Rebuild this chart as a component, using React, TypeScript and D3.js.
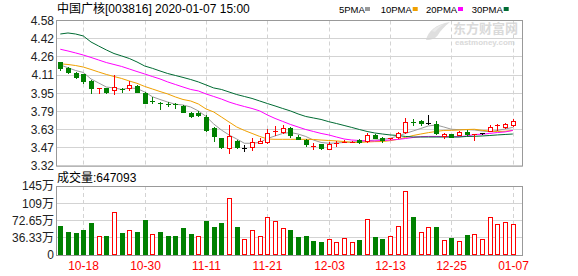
import React from 'react';
import * as d3 from 'd3';

const title = '中国广核[003816] 2020-01-07 15:00';
const volumeTitle = '成交量:647093';
const maNames = ['5PMA', '10PMA', '20PMA', '30PMA'];
const maColors = ['#9a9a9a', '#f0a000', '#ff00ff', '#006b33'];

const dates = [
  '10-15','10-16','10-17','10-18','10-21','10-22','10-23','10-24','10-25','10-28','10-29','10-30','10-31',
  '11-01','11-04','11-05','11-06','11-07','11-08','11-11','11-12','11-13','11-14','11-15','11-18','11-19','11-20','11-21','11-22','11-25','11-26','11-27','11-28','11-29',
  '12-02','12-03','12-04','12-05','12-06','12-09','12-10','12-11','12-12','12-13','12-16','12-17','12-18','12-19','12-20','12-23','12-24','12-25','12-26','12-27','12-30','12-31',
  '01-02','01-03','01-06','01-07'
];
const xTickLabels = ['10-18', '10-30', '11-11', '11-21', '12-03', '12-13', '12-25', '01-07'];

const opens = [4.218,4.171,4.128,4.114,4.059,3.990,3.996,3.981,3.988,3.998,4.016,3.950,3.882,3.866,3.858,3.858,3.840,3.782,3.782,3.747,3.652,3.560,3.479,3.537,3.473,3.482,3.523,3.531,3.617,3.618,3.649,3.570,3.545,3.490,3.511,3.465,3.520,3.525,3.528,3.545,3.539,3.589,3.560,3.555,3.569,3.617,3.698,3.710,3.690,3.684,3.577,3.600,3.591,3.617,3.595,3.603,3.625,3.672,3.662,3.673];
const highs = [4.223,4.175,4.137,4.119,4.062,3.995,3.996,4.108,3.995,4.056,4.022,3.958,3.915,3.872,3.877,3.868,3.848,3.788,3.794,3.759,3.655,3.565,3.675,3.545,3.502,3.560,3.560,3.638,3.667,3.673,3.660,3.590,3.554,3.516,3.511,3.530,3.540,3.545,3.535,3.555,3.603,3.598,3.572,3.565,3.617,3.733,3.725,3.720,3.765,3.713,3.605,3.600,3.620,3.629,3.600,3.610,3.675,3.685,3.690,3.727];
const lows = [4.154,4.123,4.085,4.036,3.955,3.955,3.955,3.946,3.965,3.981,3.960,3.866,3.868,3.816,3.842,3.825,3.790,3.748,3.756,3.623,3.540,3.480,3.435,3.478,3.450,3.459,3.523,3.522,3.589,3.608,3.573,3.550,3.496,3.470,3.470,3.465,3.496,3.525,3.525,3.520,3.531,3.560,3.530,3.550,3.560,3.609,3.675,3.675,3.684,3.597,3.565,3.570,3.585,3.591,3.545,3.598,3.620,3.633,3.650,3.667];
const closes = [4.166,4.131,4.093,4.059,3.998,3.993,3.964,4.004,3.982,4.022,3.964,3.868,3.880,3.862,3.855,3.854,3.790,3.756,3.764,3.632,3.580,3.487,3.580,3.482,3.473,3.525,3.540,3.609,3.622,3.647,3.589,3.555,3.513,3.492,3.479,3.514,3.522,3.528,3.530,3.530,3.589,3.565,3.542,3.560,3.604,3.704,3.694,3.690,3.690,3.603,3.600,3.570,3.612,3.600,3.597,3.603,3.660,3.675,3.683,3.710];

// volume in 手
const volumes = [610000,480000,460000,530000,670000,410000,390000,900000,460000,530000,480000,740000,440000,480000,400000,410000,570000,440000,410000,720000,590000,670000,1190000,590000,330000,520000,410000,810000,710000,560000,530000,380000,400000,300000,280000,330000,270000,350000,270000,320000,750000,380000,340000,390000,620000,1340000,800000,480000,580000,590000,310000,360000,290000,420000,440000,330000,790000,650000,690000,647093];
const volumeColors = 'GGGGGRGRGRGGRGGGGGRGGGRGRRRRRRGGGGGRRRRGRGGRRRGRRGRGRGRRRRRR';

const ma5 = [4.195,4.171,4.147,4.130,4.074,4.039,4.004,3.996,3.983,3.996,3.991,3.961,3.920,3.896,3.874,3.855,3.848,3.831,3.797,3.749,3.684,3.632,3.589,3.554,3.517,3.517,3.524,3.558,3.580,3.602,3.610,3.597,3.576,3.545,3.524,3.517,3.519,3.524,3.528,3.531,3.537,3.545,3.550,3.560,3.580,3.602,3.623,3.645,3.667,3.675,3.658,3.638,3.635,3.635,3.632,3.623,3.617,3.628,3.641,3.654];
const ma10 = [4.205,4.199,4.190,4.177,4.156,4.134,4.113,4.095,4.078,4.056,4.036,4.009,3.987,3.965,3.944,3.918,3.896,3.883,3.857,3.814,3.788,3.745,3.701,3.658,3.628,3.602,3.576,3.554,3.551,3.551,3.551,3.551,3.551,3.550,3.545,3.541,3.537,3.532,3.524,3.524,3.528,3.531,3.532,3.539,3.551,3.567,3.584,3.597,3.609,3.619,3.628,3.629,3.632,3.636,3.638,3.629,3.622,3.619,3.621,3.628];
const ma20 = [4.331,4.316,4.299,4.281,4.260,4.238,4.216,4.199,4.182,4.160,4.138,4.117,4.095,4.074,4.048,4.026,4.004,3.983,3.970,3.944,3.922,3.900,3.874,3.853,3.835,3.818,3.797,3.762,3.732,3.706,3.680,3.658,3.636,3.619,3.602,3.589,3.571,3.554,3.545,3.541,3.537,3.537,3.541,3.545,3.550,3.558,3.567,3.574,3.576,3.576,3.574,3.574,3.574,3.580,3.593,3.595,3.602,3.610,3.615,3.628];
const ma30 = [4.463,4.472,4.463,4.446,4.394,4.359,4.325,4.294,4.273,4.251,4.221,4.186,4.166,4.143,4.121,4.104,4.087,4.069,4.048,4.022,3.996,3.983,3.961,3.939,3.922,3.905,3.883,3.861,3.840,3.818,3.797,3.771,3.749,3.736,3.723,3.704,3.688,3.671,3.654,3.636,3.619,3.606,3.597,3.589,3.584,3.576,3.571,3.571,3.571,3.571,3.571,3.571,3.571,3.576,3.577,3.580,3.584,3.589,3.593,3.597];

const priceTickLabels = ['3.32', '3.47', '3.63', '3.79', '3.95', '4.11', '4.26', '4.42', '4.58'];
const priceMin = 3.32;
const priceMax = 4.58;
const volumeTickLabels = ['0', '36.33万', '72.65万', '109万', '145万'];
const volumeMax = 1453200;

const FONT = '"Liberation Sans", Arial, "Noto Sans CJK SC", sans-serif';
const RED = '#ff0000';
const GREEN = '#008000';
const GRID = '#d3d3d3';
const FRAME = '#999999';

export default function App() {
  const left = 56.5;
  const right = 522.5;
  const pTop = 20.5;
  const pBottom = 166;
  const vTop = 186;
  const vBottom = 255;

  const x = d3.scalePoint<string>().domain(dates).range([60.3, 512.8]);
  const y = d3.scaleLinear().domain([priceMin, priceMax]).range([pBottom, pTop]);
  const yv = d3.scaleLinear().domain([0, volumeMax]).range([vBottom, vTop]);

  const px = (i: number) => Math.round(x(dates[i]) as number);
  const crisp = (v: number) => Math.floor(v) + 0.5;

  const priceTicks = priceTickLabels.map((lab, k) => ({
    lab,
    v: priceMin + (k * (priceMax - priceMin)) / (priceTickLabels.length - 1),
  }));
  const volumeTicks = volumeTickLabels.map((lab, k) => ({
    lab,
    v: (k * volumeMax) / (volumeTickLabels.length - 1),
  }));
  const xTicks = xTickLabels.map((lab) => ({ lab, i: dates.indexOf(lab) }));

  const maLine = (arr: number[]) =>
    d3
      .line<number>()
      .x((_, i) => x(dates[i]) as number)
      .y((v) => y(v))(arr) as string;

  const mas = [ma5, ma10, ma20, ma30];
  const legendX = [339, 380.7, 426, 471.7];
  const legendW = [24, 30, 30, 30];

  return (
    <svg
      width={578}
      height={276}
      style={{ position: 'absolute', left: 0, top: 0, background: '#fff' }}
      fontFamily={FONT}
    >
      <rect x={0} y={0} width={578} height={276} fill="#fff" />
      {/* title */}
      <text x={57} y={13} fontSize={12} fill="#000">{title}</text>
      {/* legend */}
      {maNames.map((n, k) => (
        <g key={n}>
          <text x={legendX[k]} y={12.5} fontSize={9.5} fill="#000">{n}</text>
          <rect x={legendX[k] + legendW[k] + 2} y={7} width={5} height={4} fill={maColors[k]} />
        </g>
      ))}

      {/* watermark */}
      <g opacity={0.9}>
        <path d="M426,40 C428,31 436,24 450,22 C444,27 440,31 438,35 C436,38 432,40 426,40 Z" fill="#dcdcdc" />
        <path d="M432,31 C435,27 440,25 444,24 C440,27 437,29 435,32 Z" fill="#e8e8e8" />
        <text x={453} y={32.5} fontSize={13} fontWeight="bold" fill="#d6d6d6" fontFamily={'"Noto Sans CJK SC", sans-serif'}>东方财富网</text>
        <text x={455} y={45} fontSize={8} fontWeight="bold" fill="#d6d6d6">eastmoney.com</text>
      </g>

      {/* price panel grid */}
      {priceTicks.map((t) => (
        <line key={'pg' + t.lab} x1={left} x2={right} y1={crisp(y(t.v))} y2={crisp(y(t.v))} stroke={GRID} />
      ))}
      {xTicks.map((t) => (
        <line
          key={'px' + t.lab}
          x1={px(t.i) + 0.5}
          x2={px(t.i) + 0.5}
          y1={pTop}
          y2={pBottom}
          stroke={GRID}
          strokeDasharray="4,3"
        />
      ))}
      {/* price labels */}
      {priceTicks.map((t) => (
        <text key={'pl' + t.lab} x={54} y={y(t.v)} dy="0.36em" textAnchor="end" fontSize={12} fill="#222">
          {t.lab}
        </text>
      ))}

      {/* MA lines */}
      {mas.map((arr, k) => (
        <path key={'ma' + k} d={maLine(arr)} fill="none" stroke={maColors[k]} strokeWidth={1} />
      ))}

      {/* candles */}
      {dates.map((d, i) => {
        const o = opens[i];
        const c = closes[i];
        const color = c > o ? RED : c < o ? GREEN : '#000';
        const cx = px(i);
        const yo = Math.round(y(o));
        const yc = Math.round(y(c));
        const yh = Math.round(y(highs[i]));
        const yl = Math.round(y(lows[i]));
        const top = Math.min(yo, yc);
        const bot = Math.max(yo, yc);
        const bh = bot - top;
        const wick = <line x1={cx + 0.5} x2={cx + 0.5} y1={yh} y2={yl + 1} stroke={color} />;
        let body;
        if (bh < 2) {
          body = <rect x={cx - 2} y={top} width={5} height={Math.max(1, bh)} fill={color} />;
        } else if (c > o) {
          body = (
            <g>
              <line x1={cx + 0.5} x2={cx + 0.5} y1={yh} y2={top} stroke={color} />
              <line x1={cx + 0.5} x2={cx + 0.5} y1={bot} y2={yl + 1} stroke={color} />
              <rect x={cx - 1.5} y={top + 0.5} width={4} height={bh} fill="#fff" stroke={color} />
            </g>
          );
          return <g key={d}>{body}</g>;
        } else {
          body = <rect x={cx - 2} y={top} width={5} height={bh + 1} fill={color} />;
        }
        return (
          <g key={d}>
            {wick}
            {body}
          </g>
        );
      })}

      {/* price frame */}
      <rect x={left} y={pTop} width={right - left} height={pBottom - pTop} fill="none" stroke={FRAME} />

      {/* volume title */}
      <text x={57} y={181.5} fontSize={12} fill="#000">{volumeTitle}</text>

      {/* volume grid */}
      {volumeTicks.map((t) => (
        <line key={'vg' + t.lab} x1={left} x2={right} y1={crisp(yv(t.v))} y2={crisp(yv(t.v))} stroke={GRID} />
      ))}
      {xTicks.map((t) => (
        <line
          key={'vx' + t.lab}
          x1={px(t.i) + 0.5}
          x2={px(t.i) + 0.5}
          y1={vTop}
          y2={vBottom}
          stroke={GRID}
          strokeDasharray="4,3"
        />
      ))}
      {volumeTicks.map((t) => (
        <text key={'vl' + t.lab} x={54} y={yv(t.v)} dy="0.36em" textAnchor="end" fontSize={12} fill="#222">
          {t.lab}
        </text>
      ))}

      {/* volume bars */}
      {volumes.map((v, i) => {
        const cx = px(i);
        const top = Math.round(yv(v));
        const h = vBottom - top;
        if (volumeColors[i] === 'R') {
          return (
            <rect key={'v' + i} x={cx - 1.5} y={top + 0.5} width={4} height={h - 1} fill="#fff" stroke={RED} />
          );
        }
        return <rect key={'v' + i} x={cx - 2} y={top} width={5} height={h} fill={GREEN} />;
      })}

      {/* volume frame */}
      <rect x={left} y={vTop + 0.5} width={right - left} height={vBottom - vTop} fill="none" stroke={FRAME} />

      {/* x labels */}
      {xTicks.map((t) => (
        <text key={'xl' + t.lab} x={px(t.i) + 0.5} y={270} textAnchor="middle" fontSize={12} fill={RED}>
          {t.lab}
        </text>
      ))}
    </svg>
  );
}
